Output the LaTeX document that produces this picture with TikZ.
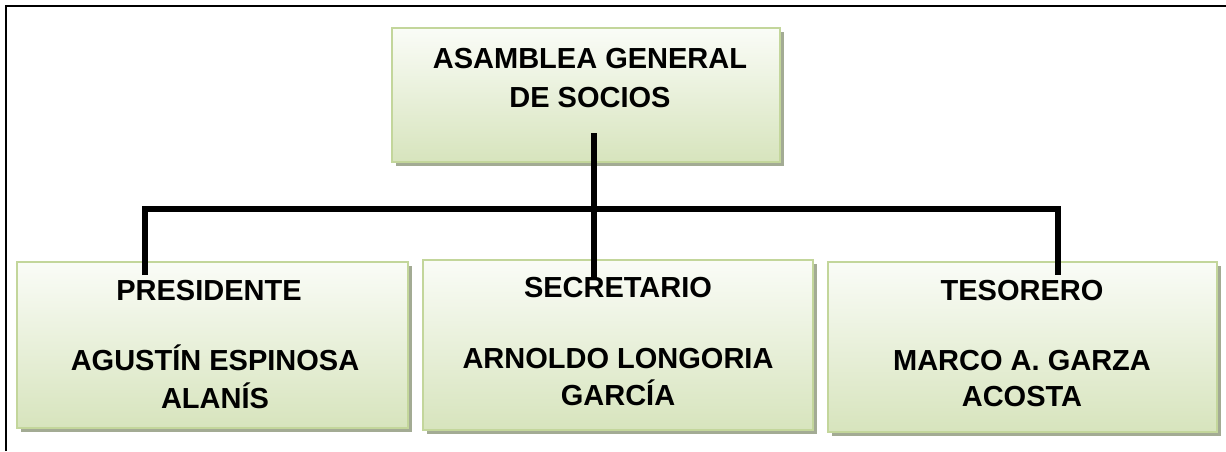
\documentclass[tikz,border=0pt]{standalone}
\usepackage{fontspec}
\setmainfont{Liberation Sans}
\usetikzlibrary{shadows}
\definecolor{boxtop}{HTML}{FAFCF7}
\definecolor{boxbot}{HTML}{D7E4BD}
\definecolor{boxedge}{HTML}{C3D69B}
\definecolor{boxshadow}{HTML}{A3AB94}
\tikzset{
  orgbox/.style={rectangle, draw=boxedge, line width=1.5pt, top color=boxtop, bottom color=boxbot,
    inner sep=0pt, drop shadow={shadow xshift=4pt, shadow yshift=-4pt, fill=boxshadow, opacity=1}},
  lbl/.style={font=\bfseries\fontsize{29}{37}\selectfont, anchor=base, inner sep=0pt, align=center},
  conn/.style={line width=6pt, black, line join=miter}
}
\begin{document}
\begin{tikzpicture}[x=1pt,y=-1pt]
\useasboundingbox (0,0) rectangle (1226,451);
% frame (top and left only)
\draw[line width=2.5pt] (6,451) -- (6,6) -- (1226,6);
% boxes
\node[orgbox, minimum width=388pt, minimum height=134pt] (T) at (586,95) {};
\node[orgbox, minimum width=391pt, minimum height=166pt] (P) at (212.5,345) {};
\node[orgbox, minimum width=390pt, minimum height=170pt] (S) at (618,345) {};
\node[orgbox, minimum width=389pt, minimum height=170pt] (R) at (1022.5,347) {};
% texts
\node[lbl] (t1) at (590,68) {ASAMBLEA GENERAL};
\node[lbl] (t2) at (590,107) {DE SOCIOS};
\node[lbl] (p1) at (209,300) {PRESIDENTE};
\node[lbl] (p2) at (215,370) {AGUSTÍN ESPINOSA};
\node[lbl] (p3) at (215,408) {ALANÍS};
\node[lbl] (s1) at (618,297) {SECRETARIO};
\node[lbl] (s2) at (618,368) {ARNOLDO LONGORIA};
\node[lbl] (s3) at (618,405) {GARCÍA};
\node[lbl] (r1) at (1022,300) {TESORERO};
\node[lbl] (r2) at (1022,370) {MARCO A. GARZA};
\node[lbl] (r3) at (1022,406) {ACOSTA};
% connectors
\coordinate (tp) at (593.5,133);
\coordinate (sl) at (593.5,278);
\coordinate (hl) at (145,209);
\coordinate (hr) at (1058,209);
\coordinate (pl) at (145,275);
\coordinate (pr) at (1058,275);
\draw[conn] (tp) -- (sl);
\draw[conn] (pl) -- (hl) -- (hr) -- (pr);
\end{tikzpicture}
\end{document}
